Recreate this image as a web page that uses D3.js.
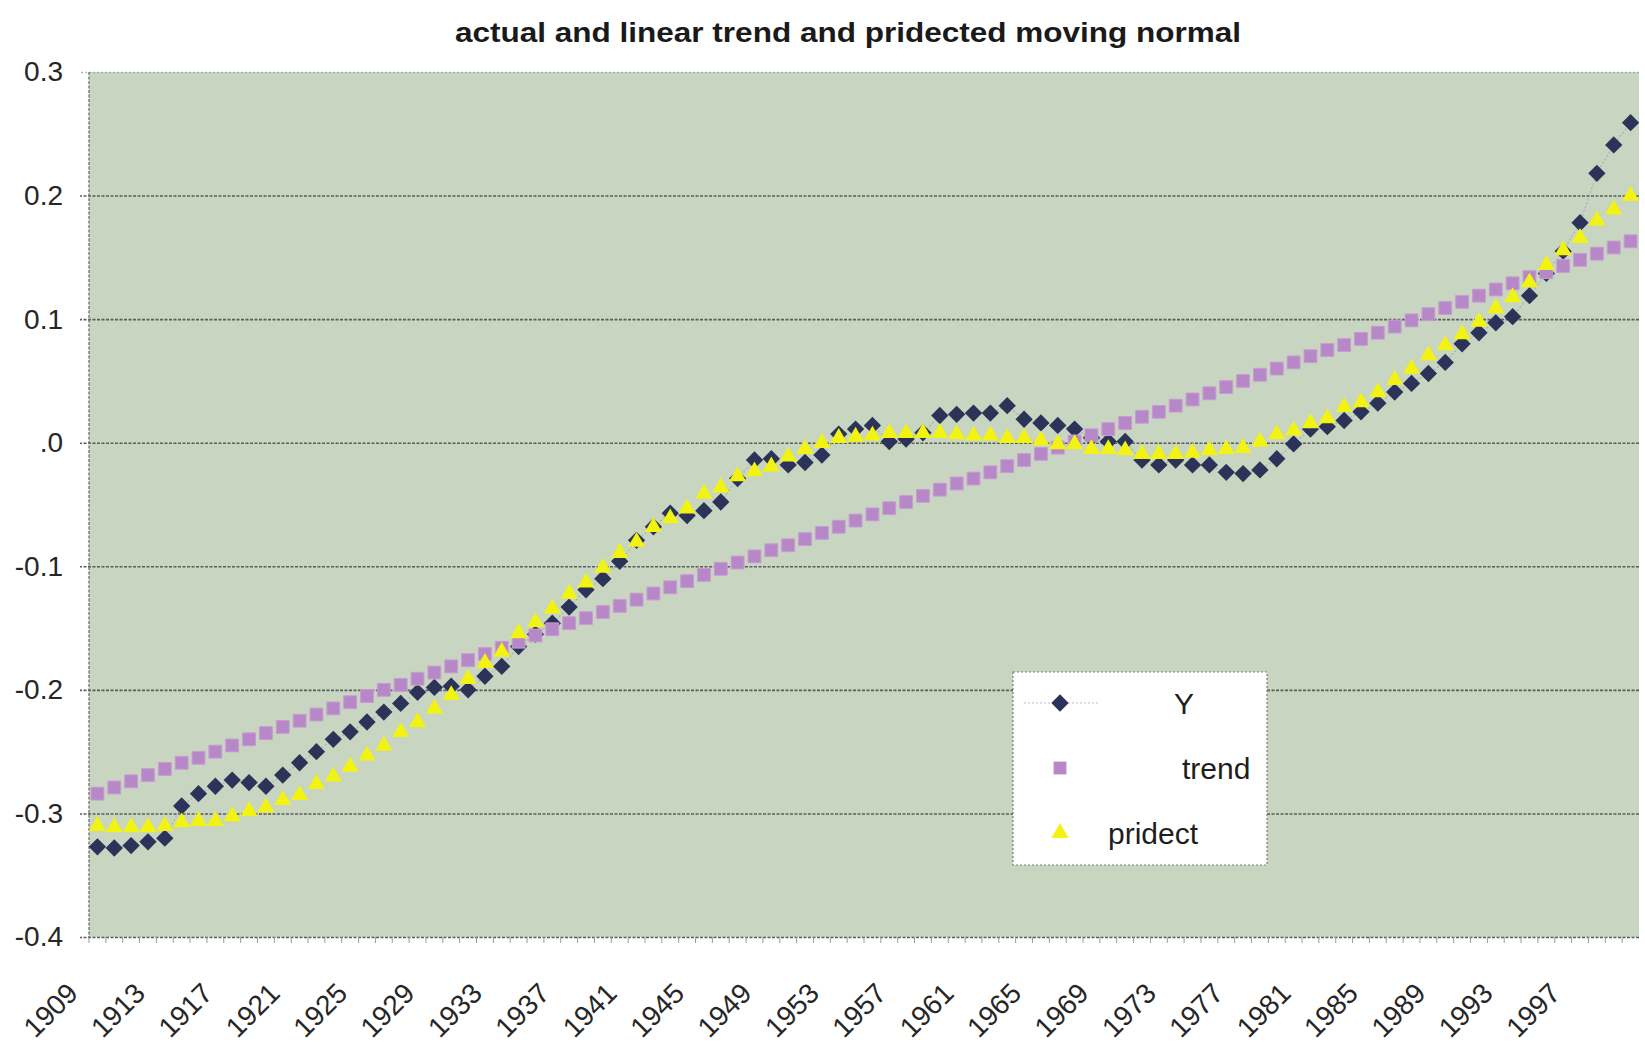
<!DOCTYPE html>
<html>
<head>
<meta charset="utf-8">
<script src="https://cdn.jsdelivr.net/npm/d3@7"></script>
<style>
  html, body { margin: 0; padding: 0; background: #ffffff; }
  svg { display: block; }
  text { font-family: "Liberation Sans", Arial, sans-serif; }
</style>
</head>
<body>
<svg id="chart" width="1645" height="1051"></svg>
<script>
// Categories: one per year
const years = [
  1909,1910,1911,1912,1913,1914,1915,1916,1917,1918,1919,1920,1921,1922,1923,1924,1925,1926,1927,1928,
  1929,1930,1931,1932,1933,1934,1935,1936,1937,1938,1939,1940,1941,1942,1943,1944,1945,1946,1947,1948,
  1949,1950,1951,1952,1953,1954,1955,1956,1957,1958,1959,1960,1961,1962,1963,1964,1965,1966,1967,1968,
  1969,1970,1971,1972,1973,1974,1975,1976,1977,1978,1979,1980,1981,1982,1983,1984,1985,1986,1987,1988,
  1989,1990,1991,1992,1993,1994,1995,1996,1997,1998,1999,2000
];

// Series "Y" (actual moving normal)
const actualY = [
  -0.327,-0.328,-0.326,-0.323,-0.320,-0.294,-0.284,-0.278,-0.273,-0.275,-0.278,-0.269,-0.259,-0.250,-0.240,-0.234,-0.226,-0.218,-0.211,-0.202,
  -0.198,-0.197,-0.200,-0.189,-0.181,-0.165,-0.155,-0.146,-0.133,-0.119,-0.110,-0.096,-0.079,-0.068,-0.057,-0.059,-0.055,-0.048,-0.029,-0.014,
  -0.013,-0.018,-0.016,-0.010,0.007,0.011,0.014,0.001,0.003,0.008,0.022,0.023,0.024,0.024,0.030,0.019,0.016,0.014,0.011,0.004,
  0.001,0.001,-0.014,-0.018,-0.014,-0.018,-0.018,-0.024,-0.025,-0.022,-0.013,-0.001,0.011,0.013,0.018,0.025,0.032,0.041,0.048,0.056,
  0.065,0.080,0.089,0.097,0.102,0.119,0.137,0.155,0.178,0.218,0.241,0.259
];

// Series "trend" (linear trend)
const trendY = [
  -0.284,-0.279,-0.274,-0.269,-0.264,-0.259,-0.255,-0.250,-0.245,-0.240,-0.235,-0.230,-0.225,-0.220,-0.215,-0.210,-0.205,-0.200,-0.196,-0.191,
  -0.186,-0.181,-0.176,-0.171,-0.166,-0.161,-0.156,-0.151,-0.146,-0.142,-0.137,-0.132,-0.127,-0.122,-0.117,-0.112,-0.107,-0.102,-0.097,-0.092,
  -0.087,-0.083,-0.078,-0.073,-0.068,-0.063,-0.058,-0.053,-0.048,-0.043,-0.038,-0.033,-0.029,-0.024,-0.019,-0.014,-0.009,-0.004,0.001,0.006,
  0.011,0.016,0.021,0.025,0.030,0.035,0.040,0.045,0.050,0.055,0.060,0.065,0.070,0.075,0.079,0.084,0.089,0.094,0.099,0.104,
  0.109,0.114,0.119,0.124,0.129,0.134,0.138,0.143,0.148,0.153,0.158,0.163
];

// Series "pridect" (predicted moving normal)
const predictY = [
  -0.309,-0.310,-0.310,-0.310,-0.309,-0.306,-0.305,-0.305,-0.301,-0.297,-0.294,-0.288,-0.284,-0.275,-0.269,-0.261,-0.252,-0.244,-0.233,-0.225,
  -0.214,-0.203,-0.190,-0.177,-0.168,-0.153,-0.144,-0.133,-0.121,-0.112,-0.100,-0.088,-0.079,-0.067,-0.060,-0.052,-0.040,-0.035,-0.026,-0.022,
  -0.018,-0.010,-0.004,0.001,0.005,0.006,0.007,0.009,0.009,0.009,0.009,0.008,0.007,0.007,0.005,0.005,0.003,0.000,0.000,-0.004,
  -0.004,-0.005,-0.008,-0.008,-0.008,-0.007,-0.005,-0.004,-0.003,0.002,0.008,0.011,0.017,0.021,0.030,0.034,0.042,0.052,0.061,0.072,
  0.080,0.089,0.099,0.110,0.119,0.131,0.145,0.157,0.167,0.181,0.190,0.201
];

// Axis ticks and labels
const yTicks = [0.3, 0.2, 0.1, 0, -0.1, -0.2, -0.3, -0.4];
const yTickLabels = ["0.3", "0.2", "0.1", ".0", "-0.1", "-0.2", "-0.3", "-0.4"];
const xLabelYears = [1909,1913,1917,1921,1925,1929,1933,1937,1941,1945,1949,1953,1957,1961,1965,1969,1973,1977,1981,1985,1989,1993,1997];
const seriesNames = ["Y", "trend", "pridect"];
const chartTitle = "actual and linear trend and pridected moving normal";

const svg = d3.select("#chart");
const plot = { left: 89, right: 1639, top: 72, bottom: 937 };

const x = d3.scaleBand().domain(years).range([plot.left, plot.right]).padding(0);
const cx = yr => x(yr) + x.bandwidth() / 2;
const y = d3.scaleLinear().domain([-0.4, 0.3]).range([plot.bottom, plot.top]);

const colors = { actual: "#2c3359", trend: "#b688c7", predict: "#f3f312" };

// Plot area background
svg.append("rect")
  .attr("x", plot.left).attr("y", plot.top)
  .attr("width", plot.right - plot.left).attr("height", plot.bottom - plot.top)
  .attr("fill", "#c8d5c1");

// Title
svg.append("text")
  .attr("x", 848).attr("y", 42)
  .attr("text-anchor", "middle")
  .attr("font-size", 28).attr("font-weight", "bold")
  .attr("fill", "#1a1a1a")
  .attr("textLength", 786).attr("lengthAdjust", "spacingAndGlyphs")
  .text(chartTitle);

// Horizontal gridlines with short outside ticks
const yAxis = d3.axisLeft(y)
  .tickValues(yTicks)
  .tickSize(-(plot.right - plot.left) - 9)
  .tickPadding(16)
  .tickFormat((d, i) => yTickLabels[i]);
const gy = svg.append("g").attr("transform", `translate(${plot.right},0)`).call(yAxis);
gy.select(".domain").remove();
gy.selectAll(".tick line")
  .attr("x1", 0)
  .attr("x2", -(plot.right - plot.left) - 9)
  .attr("stroke", d => d === 0.3 ? "#9ba39a" : "#5a5e5a")
  .attr("stroke-width", 1.6)
  .attr("stroke-dasharray", d => d === 0.3 ? "1.5,2.5" : "3,1.5");
gy.selectAll(".tick text")
  .attr("x", -(plot.right - 63))
  .attr("text-anchor", "end")
  .attr("font-size", 28)
  .attr("fill", "#262626")
  .attr("font-family", "Liberation Sans, Arial, sans-serif");

// Vertical axis line
svg.append("line")
  .attr("x1", plot.left).attr("x2", plot.left)
  .attr("y1", plot.top).attr("y2", plot.bottom)
  .attr("stroke", "#6c706c").attr("stroke-width", 1.3)
  .attr("stroke-dasharray", "3,1.5");

// Category axis: small ticks at category boundaries
const xAxis = d3.axisBottom(x).tickValues(years).tickSize(0).tickFormat("");
const gx = svg.append("g").attr("transform", `translate(0,${plot.bottom})`).call(xAxis);
gx.select(".domain").remove();
svg.append("g").selectAll("line")
  .data(years)
  .join("line")
  .attr("x1", d => x(d)).attr("x2", d => x(d))
  .attr("y1", plot.bottom).attr("y2", plot.bottom + 6)
  .attr("stroke", "#9a9a9a").attr("stroke-width", 1);

// Rotated year labels
svg.append("g").selectAll("text")
  .data(xLabelYears)
  .join("text")
  .attr("transform", d => `translate(${cx(d) - 18},${995}) rotate(-45)`)
  .attr("text-anchor", "end")
  .attr("font-size", 28)
  .attr("fill", "#262626")
  .text(d => d);

// Faint connector through the actual series
svg.append("path")
  .datum(years.map((yr, i) => [cx(yr), y(actualY[i])]))
  .attr("d", d3.line())
  .attr("fill", "none")
  .attr("stroke", "#8c94b4")
  .attr("stroke-width", 1.1)
  .attr("stroke-dasharray", "2,2")
  .attr("opacity", 0.6);

const diamond = d3.symbol().type(d3.symbolSquare).size(150)();
const square = d3.symbol().type(d3.symbolSquare).size(165)();
const triangle = d3.symbol().type(d3.symbolTriangle).size(128)();

// Y markers
svg.append("g").selectAll("path")
  .data(years)
  .join("path")
  .attr("d", diamond)
  .attr("transform", (d, i) => `translate(${cx(d)},${y(actualY[i])}) rotate(45)`)
  .attr("fill", colors.actual);

// trend markers
svg.append("g").selectAll("path")
  .data(years)
  .join("path")
  .attr("d", square)
  .attr("transform", (d, i) => `translate(${cx(d)},${y(trendY[i])})`)
  .attr("fill", colors.trend)
  .attr("stroke", "#c99bd3").attr("stroke-width", 1);

// pridect markers
svg.append("g").selectAll("path")
  .data(years)
  .join("path")
  .attr("d", triangle)
  .attr("transform", (d, i) => `translate(${cx(d)},${y(predictY[i]) + 1.5})`)
  .attr("fill", colors.predict);

// Legend
const legend = svg.append("g");
legend.append("rect")
  .attr("x", 1013).attr("y", 672).attr("width", 254).attr("height", 193)
  .attr("fill", "#ffffff")
  .attr("stroke", "#7d7d7d").attr("stroke-width", 1.2)
  .attr("stroke-dasharray", "2,2");

const legendRows = [
  { name: seriesNames[0], my: 703, tx: 1174, ty: 714, mark: diamond, rot: 45, fill: colors.actual },
  { name: seriesNames[1], my: 768, tx: 1182, ty: 779, mark: square, rot: 0, fill: colors.trend },
  { name: seriesNames[2], my: 833, tx: 1108, ty: 844, mark: triangle, rot: 0, fill: colors.predict }
];
legend.append("line")
  .attr("x1", 1024).attr("x2", 1098)
  .attr("y1", 703).attr("y2", 703)
  .attr("stroke", "#8c94b4").attr("stroke-width", 1.1)
  .attr("stroke-dasharray", "2,2").attr("opacity", 0.6);
legendRows.forEach(r => {
  legend.append("path")
    .attr("d", r.mark)
    .attr("transform", `translate(1060,${r.my}) rotate(${r.rot})`)
    .attr("fill", r.fill);
  legend.append("text")
    .attr("x", r.tx).attr("y", r.ty)
    .attr("font-size", 30)
    .attr("fill", "#1e1e1e")
    .text(r.name);
});
</script>
</body>
</html>
